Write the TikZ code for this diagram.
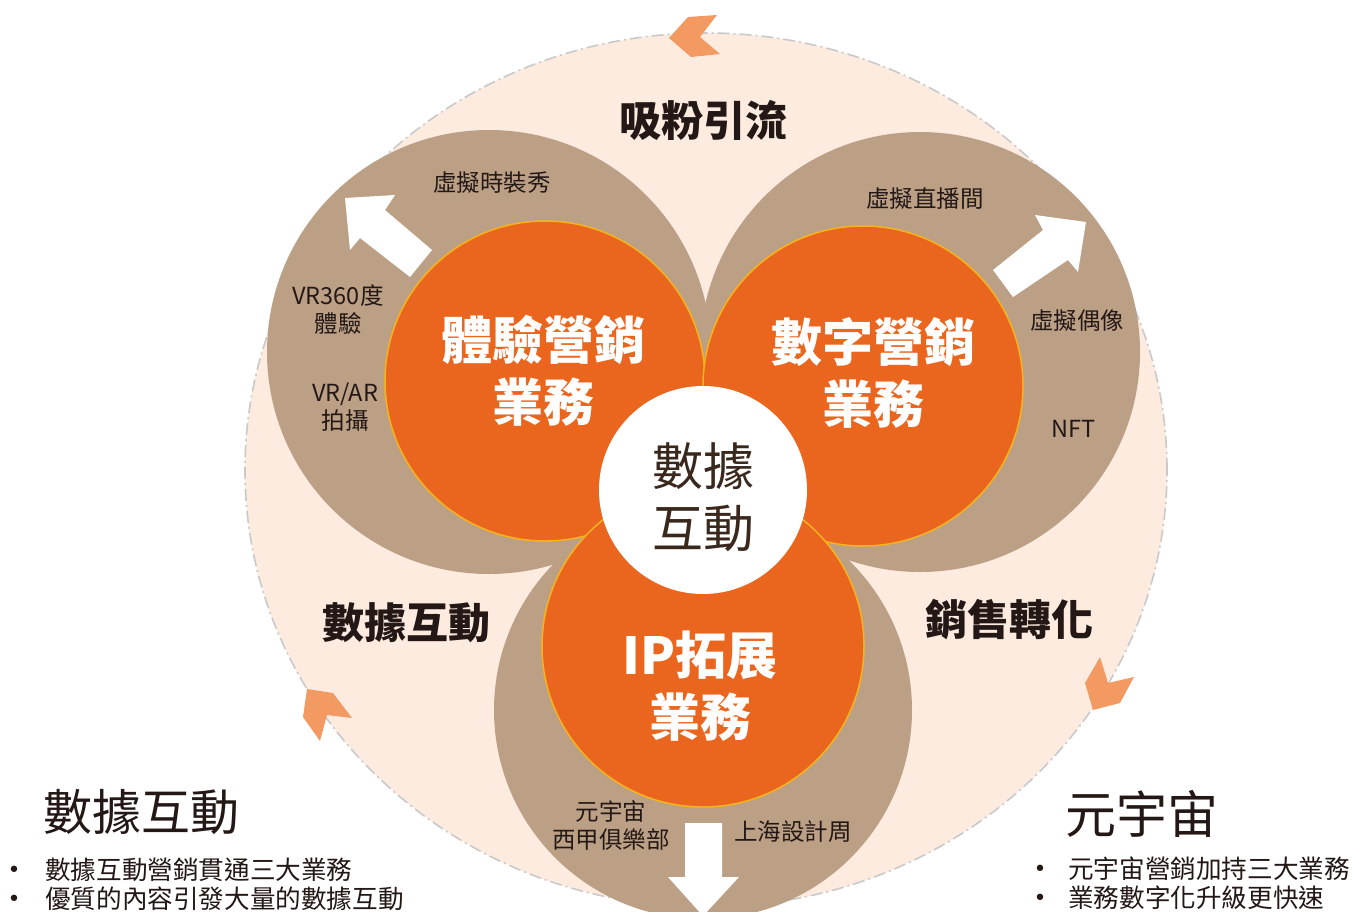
\documentclass[tikz,border=0pt]{standalone}
\usepackage{fontspec}
\setmainfont{Noto Sans CJK TC}
\newfontfamily\dejavu{DejaVu Sans}
\definecolor{peach}{HTML}{FDEBDF}
\definecolor{tan}{HTML}{BCA086}
\definecolor{orangec}{HTML}{EA661F}
\definecolor{goldc}{HTML}{F6B31B}
\definecolor{chevc}{HTML}{F29A61}
\definecolor{ink}{HTML}{231815}
\definecolor{dashc}{HTML}{C9C9C9}
\tikzset{
  dashline/.style={draw=dashc, line width=1.6pt, dash pattern=on 12pt off 4pt on 2pt off 4pt},
  chev/.style={fill=chevc},
  tanfill/.style={fill=tan},
  orb/.style={fill=orangec, draw=goldc, line width=1.5pt},
  warrow/.style={fill=white},
  lbl/.style={inner sep=0pt, text=ink, font=\fontsize{23.5}{28}\selectfont, align=center},
  big/.style={inner sep=0pt, text=ink, font=\bfseries\fontsize{42}{50}\selectfont},
  orblbl/.style={inner sep=0pt, text=white, font=\bfseries\fontsize{51}{62}\selectfont, align=center},
  bullet/.style={inner sep=0pt, text=ink, font=\fontsize{25.6}{29}\selectfont, anchor=west},
  dot/.style={inner sep=0pt, text=ink, font=\dejavu\fontsize{22}{24}\selectfont},
  title/.style={inner sep=0pt, text=ink, font=\fontsize{49}{55}\selectfont, anchor=west}
}
\begin{document}
\begin{tikzpicture}[x=1pt,y=-1pt]
\useasboundingbox (0,0) rectangle (1354,911);
\fill[white] (0,0) rectangle (1354,911);
% background ellipse
\fill[peach] (706,470) ellipse [x radius=461pt, y radius=437pt];
\draw[dashline] (706,470) ellipse [x radius=461pt, y radius=437pt];
% chevrons
\fill[chev] (669,38) -- (688,17) -- (717,15) -- (700,37) -- (720,54) -- (691,57) -- cycle;
\fill[chev] (307,689) -- (333,693) -- (352,718) -- (327,715) -- (320,741) -- (303,717) -- cycle;
\fill[chev] (1100,657) -- (1108,683) -- (1134,677) -- (1120,703) -- (1093,710) -- (1085,683) -- cycle;
% tan circles
\fill[tanfill] (489,352) circle[radius=222pt];
\fill[tanfill] (920,352) circle[radius=220pt];
\fill[tanfill] (703,710) circle[radius=209pt];
% white arrows
\fill[warrow] (345,198) -- (395,195) -- (385,210) -- (432,250) -- (410,277) -- (360,238) -- (350,250) -- cycle;
\fill[warrow] (1086,222) -- (1035,215) -- (1043,230) -- (993,270) -- (1013,297) -- (1068,260) -- (1078,272) -- cycle;
\fill[warrow] (685,823) -- (722,823) -- (722,877) -- (739,877) -- (703,916) -- (668,877) -- (685,877) -- cycle;
% orange circles
\filldraw[orb] (545,381) circle[radius=160pt];
\filldraw[orb] (863,386) circle[radius=160pt];
\filldraw[orb] (703,646) circle[radius=161pt];
% centre
\fill[white] (703,490) circle[radius=104pt];
% texts
\node[big] (t1) at (703,120) {吸粉引流};
\node[big] (t2) at (406,623) {數據互動};
\node[big] (t3) at (1009,620) {銷售轉化};
\node[orblbl] (o1) at (543,371) {體驗營銷\\業務};
\node[orblbl] (o2) at (873,373) {數字營銷\\業務};
\node[orblbl] (o3) at (700,686) {IP拓展\\業務};
\node[inner sep=0pt, text=ink!85!brown, font=\fontsize{51}{62}\selectfont, align=center] (c) at (703,497) {數據\\互動};
\node[lbl] (l1) at (492,183) {虛擬時裝秀};
\node[lbl] (l2) at (338,310) {VR360度\\體驗};
\node[lbl] (l3) at (345,407) {VR/AR\\拍攝};
\node[lbl] (l4) at (925,199) {虛擬直播間};
\node[lbl] (l5) at (1077,321) {虛擬偶像};
\node[lbl] (l6) at (1074,429) {NFT};
\node[lbl] (l7) at (611,825) {元宇宙\\西甲俱樂部};
\node[lbl] (l8) at (793,832) {上海設計周};
% bottom left
\node[title] (bt1) at (43,812) {數據互動};
\node[dot] (bd1) at (14,872) {•};
\node[bullet] (bl1) at (45,870) {數據互動營銷貫通三大業務};
\node[dot] (bd2) at (14,901) {•};
\node[bullet] (bl2) at (45,899) {優質的內容引發大量的數據互動};
% bottom right
\node[title, font=\fontsize{51}{56}\selectfont] (bt2) at (1065,814) {元宇宙};
\node[dot] (bd3) at (1040,871) {•};
\node[bullet] (bl3) at (1068,869) {元宇宙營銷加持三大業務};
\node[dot] (bd4) at (1040,900) {•};
\node[bullet] (bl4) at (1068,898) {業務數字化升級更快速};
\end{tikzpicture}
\end{document}
